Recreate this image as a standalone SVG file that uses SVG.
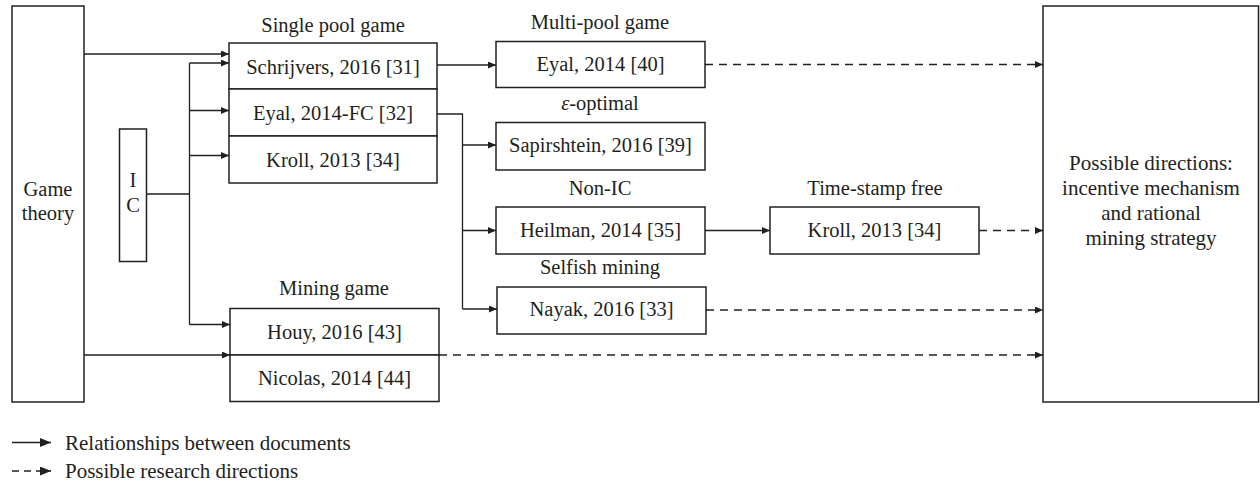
<svg xmlns="http://www.w3.org/2000/svg" width="1260" height="487" viewBox="0 0 1260 487">
  <style>
    text { fill: #231f20; font-size: 20.5px; text-anchor: middle; }
    .box { fill: #ffffff; stroke: #231f20; stroke-width: 1.5; }
    .edge { fill: none; stroke: #231f20; stroke-width: 1.3; }
    .dash { stroke-dasharray: 8 6; }
    .legend { text-anchor: start; font-size: 21px; }
    .big { font-size: 21px; }
  </style>
  <defs>
    <marker id="arr" viewBox="0 0 8 7" refX="8" refY="3.5" markerWidth="8" markerHeight="7" markerUnits="userSpaceOnUse" orient="auto">
      <path d="M0,0 L8,3.5 L0,7 Z" fill="#231f20"/>
    </marker>
    <marker id="arrL" viewBox="0 0 11 9" refX="11" refY="4.5" markerWidth="11" markerHeight="9" markerUnits="userSpaceOnUse" orient="auto">
      <path d="M0,0 L11,4.5 L0,9 Z" fill="#231f20"/>
    </marker>
  </defs>

  <!-- connectors -->
  <g id="connectors">
    <path class="edge" d="M84,54 H229" marker-end="url(#arr)"/>
    <path class="edge" d="M146,194 H189.5"/>
    <path class="edge" d="M189.5,63 V324.5"/>
    <path class="edge" d="M189.5,63 H229" marker-end="url(#arr)"/>
    <path class="edge" d="M189.5,110.5 H229" marker-end="url(#arr)"/>
    <path class="edge" d="M189.5,155.5 H229" marker-end="url(#arr)"/>
    <path class="edge" d="M189.5,324.5 H230" marker-end="url(#arr)"/>
    <path class="edge" d="M84,355 H230" marker-end="url(#arr)"/>
    <path class="edge" d="M437,65 H496" marker-end="url(#arr)"/>
    <path class="edge" d="M437,114 H462.5 V309"/>
    <path class="edge" d="M462.5,145 H496" marker-end="url(#arr)"/>
    <path class="edge" d="M462.5,230.5 H496" marker-end="url(#arr)"/>
    <path class="edge" d="M462.5,309 H497" marker-end="url(#arr)"/>
    <path class="edge" d="M705,230.5 H770" marker-end="url(#arr)"/>
    <path class="edge dash" d="M705,64.5 H1043" marker-end="url(#arr)"/>
    <path class="edge dash" d="M979,230.5 H1043" marker-end="url(#arr)"/>
    <path class="edge dash" d="M706,310 H1043" marker-end="url(#arr)"/>
    <path class="edge dash" d="M439,355 H1043" marker-end="url(#arr)"/>
  </g>

  <!-- nodes -->
  <g font-family="'Liberation Serif', 'DejaVu Serif', serif">
  <g id="game-theory">
    <rect class="box" x="12" y="6" width="72" height="396"/>
    <text x="48" y="196">Game</text>
    <text x="48" y="220">theory</text>
  </g>
  <g id="ic">
    <rect class="box" x="119.5" y="129" width="27" height="132.5"/>
    <text x="133" y="187">I</text>
    <text x="133" y="212">C</text>
  </g>
  <g id="schrijvers">
    <text x="333" y="32">Single pool game</text>
    <rect class="box" x="229" y="43" width="208" height="46"/>
    <text x="333" y="74">Schrijvers, 2016 [31]</text>
  </g>
  <g id="eyal-fc">
    <rect class="box" x="229" y="89" width="208" height="47"/>
    <text x="333" y="120">Eyal, 2014-FC [32]</text>
  </g>
  <g id="kroll-left">
    <rect class="box" x="229" y="136" width="208" height="47"/>
    <text x="333" y="167">Kroll, 2013 [34]</text>
  </g>
  <g id="houy">
    <text x="334" y="295">Mining game</text>
    <rect class="box" x="230" y="308.5" width="209" height="46.5"/>
    <text x="334.5" y="339">Houy, 2016 [43]</text>
  </g>
  <g id="nicolas">
    <rect class="box" x="230" y="355" width="209" height="46.5"/>
    <text x="334.5" y="385">Nicolas, 2014 [44]</text>
  </g>
  <g id="eyal-40">
    <text x="600" y="29">Multi-pool game</text>
    <rect class="box" x="496" y="41.5" width="209" height="46"/>
    <text x="600.5" y="71">Eyal, 2014 [40]</text>
  </g>
  <g id="sapirshtein">
    <text x="600" y="110"><tspan font-style="italic">ε</tspan>-optimal</text>
    <rect class="box" x="496" y="122.5" width="209" height="47.5"/>
    <text x="600.5" y="152">Sapirshtein, 2016 [39]</text>
  </g>
  <g id="heilman">
    <text x="600" y="195">Non-IC</text>
    <rect class="box" x="496" y="207" width="209" height="47"/>
    <text x="600.5" y="237">Heilman, 2014 [35]</text>
  </g>
  <g id="nayak">
    <text x="600" y="274">Selfish mining</text>
    <rect class="box" x="497" y="287" width="209" height="47"/>
    <text x="601.5" y="316">Nayak, 2016 [33]</text>
  </g>
  <g id="kroll-right">
    <text x="875" y="195">Time-stamp free</text>
    <rect class="box" x="770" y="207" width="209" height="47"/>
    <text x="874.5" y="237">Kroll, 2013 [34]</text>
  </g>
  <g id="directions">
    <rect class="box" x="1043" y="6" width="215.5" height="396"/>
    <text class="big" x="1151" y="169.5">Possible directions:</text>
    <text class="big" x="1151" y="194.5">incentive mechanism</text>
    <text class="big" x="1151" y="219.5">and rational</text>
    <text class="big" x="1151" y="244.5">mining strategy</text>
  </g>

  <!-- legend -->
  <g id="legend">
    <path class="edge" d="M12,442.5 H51" marker-end="url(#arrL)"/>
    <text class="legend" x="65" y="450">Relationships between documents</text>
    <path class="edge" d="M12,471 H51" stroke-dasharray="7 5" marker-end="url(#arrL)"/>
    <text class="legend" x="65" y="478">Possible research directions</text>
  </g>
  </g>
</svg>
